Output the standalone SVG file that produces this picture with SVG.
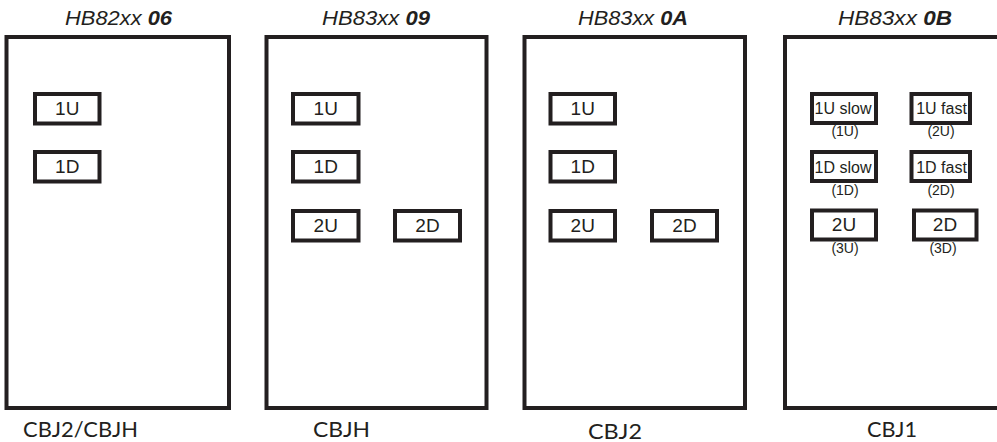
<svg xmlns="http://www.w3.org/2000/svg" width="997" height="442" viewBox="0 0 997 442">
<style>
.panel{fill:#fff;stroke:#231f20;stroke-width:4}
.box{fill:#fff;stroke:#231f20;stroke-width:4}
.title{font-family:"Liberation Sans",Arial,sans-serif;font-style:italic;font-size:20px;fill:#231f20;text-anchor:middle}
.title .b{font-weight:bold}
.lbl{font-family:"Liberation Sans",Arial,sans-serif;font-size:19px;fill:#231f20;text-anchor:middle}
.sm{font-family:"Liberation Sans",Arial,sans-serif;font-size:16px;fill:#231f20;text-anchor:middle}
.sub{font-family:"Liberation Sans",Arial,sans-serif;font-size:14px;fill:#231f20;text-anchor:middle}
.cap{font-family:Lato,"Open Sans",sans-serif;font-size:21px;fill:#231f20;text-anchor:middle}
</style>
<rect width="997" height="442" fill="#fff"/>
<g id="panel1">
<text class="title" x="118.5" y="25" textLength="107" lengthAdjust="spacingAndGlyphs">HB82xx <tspan class="b">06</tspan></text>
<rect class="panel" x="6.5" y="37" width="222.5" height="371"/>
<rect class="box" x="35" y="94" width="64.5" height="29.5"/>
<text class="lbl" x="67.25" y="114.5">1U</text>
<rect class="box" x="35" y="152" width="64.5" height="29.5"/>
<text class="lbl" x="67.25" y="172.5">1D</text>
<text class="cap" x="80.5" y="437" textLength="115" lengthAdjust="spacingAndGlyphs">CBJ2/CBJH</text>
</g>
<g id="panel2">
<text class="title" x="376" y="25" textLength="108" lengthAdjust="spacingAndGlyphs">HB83xx <tspan class="b">09</tspan></text>
<rect class="panel" x="266.5" y="37" width="220" height="371"/>
<rect class="box" x="293" y="94" width="65.5" height="29.5"/>
<text class="lbl" x="325.75" y="114.5">1U</text>
<rect class="box" x="293" y="152" width="65.5" height="29.5"/>
<text class="lbl" x="325.75" y="172.5">1D</text>
<rect class="box" x="293" y="211" width="65.5" height="29.5"/>
<text class="lbl" x="325.75" y="231.5">2U</text>
<rect class="box" x="395" y="211" width="65" height="29.5"/>
<text class="lbl" x="427.5" y="231.5">2D</text>
<text class="cap" x="341.5" y="437" textLength="57" lengthAdjust="spacingAndGlyphs">CBJH</text>
</g>
<g id="panel3">
<text class="title" x="633" y="25" textLength="110" lengthAdjust="spacingAndGlyphs">HB83xx <tspan class="b">0A</tspan></text>
<rect class="panel" x="524.5" y="37" width="220.5" height="371"/>
<rect class="box" x="550.5" y="94" width="64.5" height="29.5"/>
<text class="lbl" x="582.75" y="114.5">1U</text>
<rect class="box" x="550.5" y="152" width="64.5" height="29.5"/>
<text class="lbl" x="582.75" y="172.5">1D</text>
<rect class="box" x="550.5" y="211" width="64.5" height="29.5"/>
<text class="lbl" x="582.75" y="231.5">2U</text>
<rect class="box" x="652" y="211" width="65" height="29.5"/>
<text class="lbl" x="684.5" y="231.5">2D</text>
<text class="cap" x="615" y="439" textLength="54" lengthAdjust="spacingAndGlyphs">CBJ2</text>
</g>
<g id="panel4">
<text class="title" x="895" y="25" textLength="114" lengthAdjust="spacingAndGlyphs">HB83xx <tspan class="b">0B</tspan></text>
<rect class="panel" x="785" y="37" width="220" height="371"/>
<rect class="box" x="812" y="94" width="64" height="29"/>
<text class="sm" x="843" y="113.5">1U slow</text>
<text class="sub" x="845" y="136">(1U)</text>
<rect class="box" x="911.5" y="94" width="58.5" height="29"/>
<text class="sm" x="941.5" y="113.5">1U fast</text>
<text class="sub" x="941" y="136">(2U)</text>
<rect class="box" x="812" y="152" width="64" height="29"/>
<text class="sm" x="843" y="172.5">1D slow</text>
<text class="sub" x="845" y="195">(1D)</text>
<rect class="box" x="911.5" y="152" width="58.5" height="29"/>
<text class="sm" x="941.5" y="172.5">1D fast</text>
<text class="sub" x="941" y="195">(2D)</text>
<rect class="box" x="812" y="210.5" width="64" height="29"/>
<text class="lbl" x="844" y="231">2U</text>
<text class="sub" x="845" y="253">(3U)</text>
<rect class="box" x="914" y="210.5" width="62.5" height="29"/>
<text class="lbl" x="945" y="231">2D</text>
<text class="sub" x="943" y="253">(3D)</text>
<text class="cap" x="892" y="437" textLength="50" lengthAdjust="spacingAndGlyphs">CBJ1</text>
</g>
<g id="connectors"/>
</svg>
